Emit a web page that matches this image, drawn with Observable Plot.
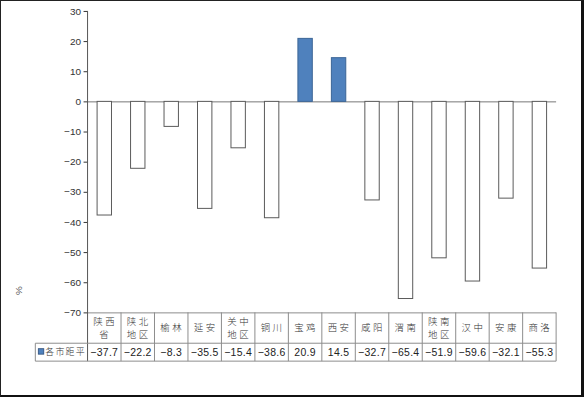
<!DOCTYPE html>
<html>
<head>
<meta charset="utf-8">
<script src="https://cdn.jsdelivr.net/npm/d3@7"></script>
<script src="https://cdn.jsdelivr.net/npm/@observablehq/plot@0.6"></script>
<style>
  html, body { margin: 0; padding: 0; background: white; }
  #frame { position: relative; width: 584px; height: 397px; box-sizing: border-box;
           border-left: 1px solid #222; border-top: 1px solid #222;
           border-right: 3px solid #111; border-bottom: 2px solid #111; background: white; }
  #chart { position: absolute; left: -1px; top: -1px; }
</style>
</head>
<body>
<div id="frame"><div id="chart"></div></div>
<script>
const categories = ["陕西省", "陕北地区", "榆林", "延安", "关中地区", "铜川", "宝鸡", "西安", "咸阳", "渭南", "陕南地区", "汉中", "安康", "商洛"];
const values = [-37.7, -22.2, -8.3, -35.5, -15.4, -38.6, 20.9, 14.5, -32.7, -65.4, -51.9, -59.6, -32.1, -55.3];
const seriesName = "各市距平";
const yTicks = [30, 20, 10, 0, -10, -20, -30, -40, -50, -60, -70];
const unitLabel = "%";

const data = categories.map((c, i) => ({cat: c, value: values[i]}));
const fmt = v => d3.format(".1f")(v).replace("-", "\u2212");
const cjk = "'Noto Sans CJK SC', sans-serif";
const latin = "'Liberation Sans', Arial, sans-serif";

function table(index, scales, vals, dims) {
  const {width, height, marginLeft, marginRight, marginBottom} = dims;
  const n = categories.length;
  const x0 = marginLeft, x1 = width - marginRight;
  const step = (x1 - x0) / n;
  const yTop = height - marginBottom;      // -70 line
  const yMid = yTop + 31;                   // header/data separator
  const yBot = yMid + 18;                   // table bottom
  const legendLeft = 35.5;
  const g = d3.create("svg:g").attr("text-anchor", "start");
  const line = "#8c8c8c";
  // y axis line
  g.append("line").attr("x1", x0).attr("x2", x0).attr("y1", scales.y(30)).attr("y2", yBot)
    .attr("stroke", "#555");
  // vertical table lines
  for (let i = 1; i <= n; i++) {
    g.append("line").attr("x1", x0 + i * step).attr("x2", x0 + i * step)
      .attr("y1", yTop).attr("y2", yBot).attr("stroke", line);
  }
  g.append("line").attr("x1", legendLeft).attr("x2", legendLeft).attr("y1", yMid).attr("y2", yBot).attr("stroke", line);
  g.append("line").attr("x1", legendLeft).attr("x2", x1).attr("y1", yMid).attr("y2", yMid).attr("stroke", line);
  g.append("line").attr("x1", legendLeft).attr("x2", x1).attr("y1", yBot).attr("y2", yBot).attr("stroke", line);
  // header labels and values
  categories.forEach((c, i) => {
    const cx = x0 + (i + 0.5) * step;
    const lines = c.length > 2 ? [c.slice(0, 2), c.slice(2)] : [c];
    const cy = (yTop + yMid) / 2;
    lines.forEach((t, k) => {
      const dy = lines.length === 1 ? 0 : (k === 0 ? -6.5 : 6.5);
      g.append("text").attr("x", cx + 1).attr("y", cy + dy).attr("dy", "0.35em")
        .attr("text-anchor", "middle").attr("font-size", 9.5).attr("letter-spacing", 2.5)
        .attr("font-weight", 300)
        .attr("font-family", cjk).attr("fill", "#333").text(t);
    });
    g.append("text").attr("x", cx).attr("y", (yMid + yBot) / 2).attr("dy", "0.36em")
      .attr("text-anchor", "middle").attr("font-size", 10.5).attr("letter-spacing", 0.3)
      .attr("font-family", latin).attr("fill", "#222").text(fmt(values[i]));
  });
  // legend
  g.append("rect").attr("x", legendLeft + 3).attr("y", (yMid + yBot) / 2 - 3.5).attr("width", 5.5).attr("height", 5.5)
    .attr("fill", "#4F81BD").attr("stroke", "#2d4d7a").attr("stroke-width", 0.8);
  g.append("text").attr("x", legendLeft + 10).attr("y", (yMid + yBot) / 2).attr("dy", "0.35em")
    .attr("text-anchor", "start")
    .attr("font-size", 9).attr("letter-spacing", 1.2).attr("font-weight", 300)
    .attr("font-family", cjk).attr("fill", "#333").text(seriesName);
  // unit label
  g.append("text").attr("transform", `translate(19,292) rotate(-90)`).attr("text-anchor", "middle")
    .attr("dy", "0.35em").attr("font-size", 10).attr("fill", "#555")
    .attr("font-family", latin).text(unitLabel);
  return g.node();
}

const chart = Plot.plot({
  width: 584,
  height: 397,
  marginLeft: 88,
  marginRight: 25,
  marginTop: 11,
  marginBottom: 83,
  style: {background: "transparent", fontFamily: latin, fontSize: "10px", color: "#333"},
  x: {domain: categories, paddingInner: 0.57, paddingOuter: 0.285, round: false, axis: null},
  y: {domain: [-70, 30], ticks: yTicks, tickSize: 4, tickPadding: 3, label: null,
      tickFormat: d => d3.format("d")(d).replace("-", "\u2212")},
  marks: [
    Plot.ruleY([0], {stroke: "#777"}),
    Plot.ruleY([-70], {stroke: "#8c8c8c"}),
    Plot.barY(data, {x: "cat", y: "value",
      fill: d => d.value > 0 ? "#4F81BD" : "white",
      stroke: d => d.value > 0 ? "#3b6596" : "#5a5a5a", strokeWidth: 1}),
    table
  ]
});
document.getElementById("chart").appendChild(chart);
</script>
</body>
</html>
